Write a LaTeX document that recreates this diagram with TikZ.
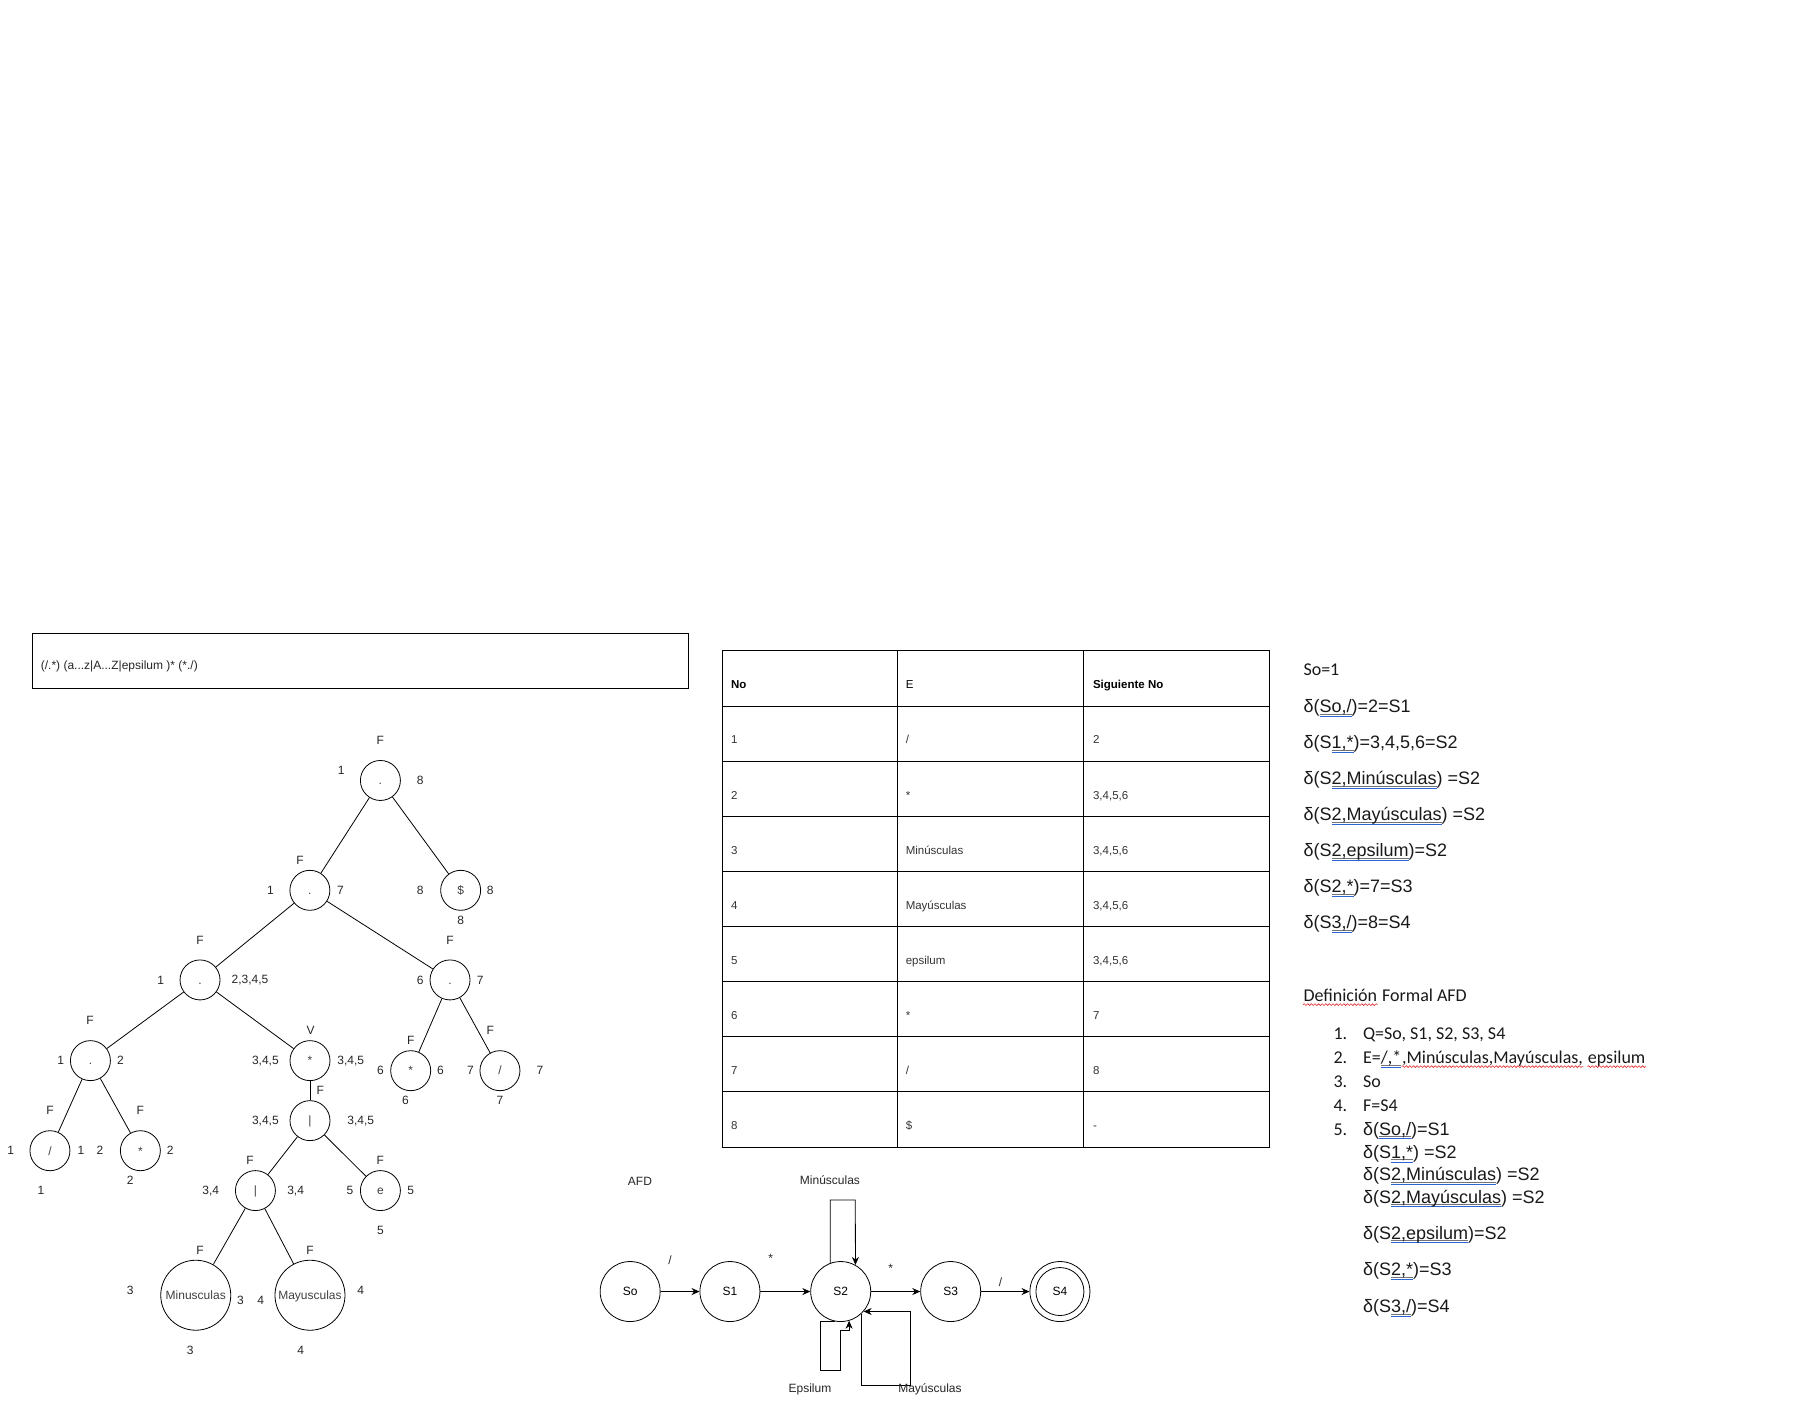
\documentclass[tikz,border=0pt]{standalone}
\usepackage{fontspec}
\setmainfont{Liberation Sans}
\newfontfamily\calibri{Carlito}
\usetikzlibrary{arrows.meta,decorations.pathmorphing}
\definecolor{ulblue}{RGB}{45,100,215}
\definecolor{ulred}{RGB}{225,40,40}
\newsavebox\ulbox
\newcommand\bul[1]{\sbox\ulbox{#1}\rlap{\color{black!55}\rule[-1.8pt]{\wd\ulbox}{0.6pt}\hspace{-\wd\ulbox}\color{ulblue}\rule[-4.2pt]{\wd\ulbox}{0.8pt}}\usebox\ulbox}

\begin{document}
\begin{tikzpicture}[x=1.1563pt,y=-1.1563pt,line width=0.8pt,
  tn/.style={draw,circle,minimum size=40pt,inner sep=0pt,text height=8.6pt,text depth=0pt,font=\fontsize{12}{14}\selectfont,text=black!75},
  bn/.style={tn,minimum size=70pt,inner sep=1pt},
  lbl/.style={font=\fontsize{12}{14}\selectfont,text=black!85,inner sep=0pt},
  state/.style={draw,circle,minimum size=60pt,inner sep=0pt,font=\fontsize{12}{14}\selectfont},
  arr/.style={-{Stealth[length=8pt,width=7pt]}},
  cell/.style={anchor=base west,inner sep=0pt,font=\fontsize{11.5}{13}\selectfont,text=black!80},
  rtxt/.style={anchor=base west,inner sep=0pt,font=\fontsize{18}{21}\selectfont,text=black!90},
  ctxt/.style={rtxt,font=\calibri\fontsize{18}{21}\selectfont},
  wave/.style={ulred,line width=0.6pt,decorate,decoration={snake,amplitude=0.9pt,segment length=3.6pt}}]
  \useasboundingbox (0,0) rectangle (1568,1212);

  % expresion regular
  \draw (28,548) rectangle (595,595);
  \node[lbl,anchor=west] (regex) at (35,576) {(/.*) (a...z|A...Z|epsilum )* (*./)};

  % arbol sintactico
  \node[tn] (r) at (329,675) {.};
  \node[tn] (a) at (268,770) {.};
  \node[tn] (dol) at (398.4,770) {\$};
  \node[tn] (b) at (173,847.5) {.};
  \node[tn] (c) at (389.2,847.5) {.};
  \node[tn] (d) at (78.2,917.3) {.};
  \node[tn] (st) at (268.1,917.3) {*};
  \node[tn] (c1) at (355.2,926) {*};
  \node[tn] (c2) at (432.4,926) {/};
  \node[tn] (o1) at (268.1,969.2) {|};
  \node[tn] (d1) at (43.2,995.2) {/};
  \node[tn] (d2) at (121.4,995.2) {*};
  \node[tn] (o2) at (220.9,1029.7) {|};
  \node[tn] (ep) at (329,1029.7) {e};
  \node[bn] (mi) at (169.3,1120.2) {Minusculas};
  \node[bn] (ma) at (268.1,1120.2) {Mayusculas};
  \foreach \p/\q in {r/a, r/dol, a/b, a/c, b/d, b/st, c/c1, c/c2, d/d1, d/d2, st/o1, o1/o2, o1/ep, o2/mi, o2/ma} {\draw (\p) -- (\q);}

  % anulable, primeros y ultimos
  \foreach \t/\x/\y [count=\i] in {F/329/640.6, 1/295/666.5, 8/363.5/675,
      F/259.4/744.3, 1/234/770, 7/294.4/770, 8/363.5/770, 8/424/770, 8/398.4/796.2,
      F/173/813.5, 1/139/848, {2,3,4,5}/216.2/848, F/389.2/813.5, 6/363.5/848, 7/415.4/848,
      F/77.8/882.7, 1/52.5/917.3, 2/104.1/917.3, V/268.7/891.4, {3,4,5}/229.5/917.3, {3,4,5}/303.3/917.3,
      F/355.2/900, 6/329/926, 6/380.9/926, 6/350.6/951.9, F/424.1/891.4, 7/406.8/926, 7/467/926, 7/432.4/951.9,
      F/277/943.3, {3,4,5}/229.5/969.2, {3,4,5}/312/969.2,
      F/43.2/960.5, 1/9.3/995.2, 1/70.1/995.2, 1/35.5/1029.7, F/121.4/960.5, 2/86.5/995.2, 2/147.3/995.2, 2/112.7/1021.1,
      F/216.2/1003.8, {3,4}/182.2/1029.7, {3,4}/255.7/1029.7, F/329/1003.8, 5/302.7/1029.7, 5/355.2/1029.7, 5/329/1064.3,
      F/173/1081.6, 3/112.7/1116.2, 3/207.9/1124.9, 3/164.6/1168.1, F/268.1/1081.6, 4/225.5/1124.9, 4/312/1116.2, 4/260.1/1168.1}
    {\node[lbl] (l\i) at (\x,\y) {\t};}

  % tabla de siguientes
  \draw[line width=1pt] (624.5,563) rectangle (1098,992);
  \foreach \y in {610.7,658.3,706,753.7,801.3,849,896.7,944.3} {\draw[line width=1pt] (624.5,\y) -- (1098,\y);}
  \foreach \x in {776,937.5} {\draw[line width=1pt] (\x,563) -- (\x,992);}
  \node[cell,text=black,font=\bfseries\fontsize{11.5}{13}\selectfont] (hno) at (632,595.7) {No};
  \node[cell,text=black] (he) at (783,595.7) {E};
  \node[cell,text=black,font=\bfseries\fontsize{11.5}{13}\selectfont] (hsig) at (945,595.7) {Siguiente No};
  \foreach \n/\e/\s [count=\k] in {1/{/}/2, 2/*/{3,4,5,6}, 3/Minúsculas/{3,4,5,6}, 4/Mayúsculas/{3,4,5,6},
      5/epsilum/{3,4,5,6}, 6/*/7, 7/{/}/8, 8/\$/-}
    {\node[cell] (no\k) at (632,595.7+\k*47.67) {\n};
     \node[cell] (e\k) at (783,595.7+\k*47.67) {\e};
     \node[cell] (sig\k) at (945,595.7+\k*47.67) {\s};}

  % AFD
  \node[lbl] (afd) at (553.5,1022) {AFD};
  \node[state] (s0) at (545,1117) {So};
  \node[state] (s1) at (631.3,1117) {S1};
  \node[state] (s2) at (727.1,1117) {S2};
  \node[state] (s3) at (822.2,1117) {S3};
  \node[state] (s4) at (916.7,1117) {S4};
  \node[draw,circle,minimum size=48pt,inner sep=0pt] (s4in) at (s4) {};
  \foreach \p/\q in {s0/s1, s1/s2, s2/s3, s3/s4} {\draw[arr] (\p) -- (\q);}
  \node[lbl] (t1) at (579.4,1090) {/};
  \node[lbl] (t2) at (666.5,1088) {*};
  \node[lbl] (t3) at (770.3,1097) {*};
  \node[lbl] (t4) at (865.4,1108.5) {/};
  \draw[arr] (s2.110) |- (739.7,1037.8) -- (s2.61);
  \draw[arr] (s2.-100) -| (709.2,1184.8) -| (726.5,1151) -| (s2.-74);
  \draw[arr] (s2.-48) |- (787,1197.8) |- (s2.-41);
  \node[lbl] (tmin) at (717.8,1021) {Minúsculas};
  \node[lbl] (teps) at (700.5,1202) {Epsilum};
  \node[lbl] (tmay) at (804.3,1202) {Mayúsculas};

  % funcion de transicion
  \node[ctxt] (so) at (1127,584.4) {So=1};
  \foreach \t/\y [count=\i] in {{δ(\bul{So,/})=2=S1}/616.2, {δ(S\bul{1,*})=3,4,5,6=S2}/647.3, {δ(S\bul{2,Minúsculas}) =S2}/678.7,
      {δ(S\bul{2,Mayúsculas}) =S2}/709.8, {δ(S\bul{2,epsilum})=S2}/741, {δ(S\bul{2,*})=7=S3}/771.8, {δ(S\bul{3,/})=8=S4}/803}
    {\node[rtxt] (f\i) at (1127,\y) {\t};}

  % definicion formal
  \node[ctxt] (def) at (1127,866.1) {Definición};
  \node[ctxt] (def2) at ([xshift=4.1pt]def.base east) {Formal AFD};
  \foreach \y [count=\i] in {899.2,919.7,940.5,961.2,981.7}
    {\node[ctxt] (n\i) at (1153,\y) {\i.};}
  \node[ctxt] (q) at (1178.5,899.2) {Q=So, S1, S2, S3, S4};
  \node[ctxt] (sig) at (1178.5,919.7) {E=\bul{/,*}};
  \node[ctxt] (sigw) at (sig.base east) {,Minúsculas,Mayúsculas,};
  \node[ctxt] (sige) at ([xshift=4.1pt]sigw.base east) {epsilum};
  \node[ctxt] (ini) at (1178.5,940.5) {So};
  \node[ctxt] (fin) at (1178.5,961.2) {F=S4};
  \foreach \t/\y [count=\i] in {{δ(\bul{So,/})=S1}/981.7, {δ(S\bul{1,*}) =S2}/1001.6, {δ(S\bul{2,Minúsculas}) =S2}/1021.2,
      {δ(S\bul{2,Mayúsculas}) =S2}/1040.5, {δ(S\bul{2,epsilum})=S2}/1071.6, {δ(S\bul{2,*})=S3}/1103.3, {δ(S\bul{3,/})=S4}/1135.1}
    {\node[rtxt] (g\i) at (1178.5,\y) {\t};}
  \foreach \w in {def, sigw, sige} {\draw[wave] ([yshift=-3.2pt]\w.base west) -- ([yshift=-3.2pt]\w.base east);}
\end{tikzpicture}
\end{document}
